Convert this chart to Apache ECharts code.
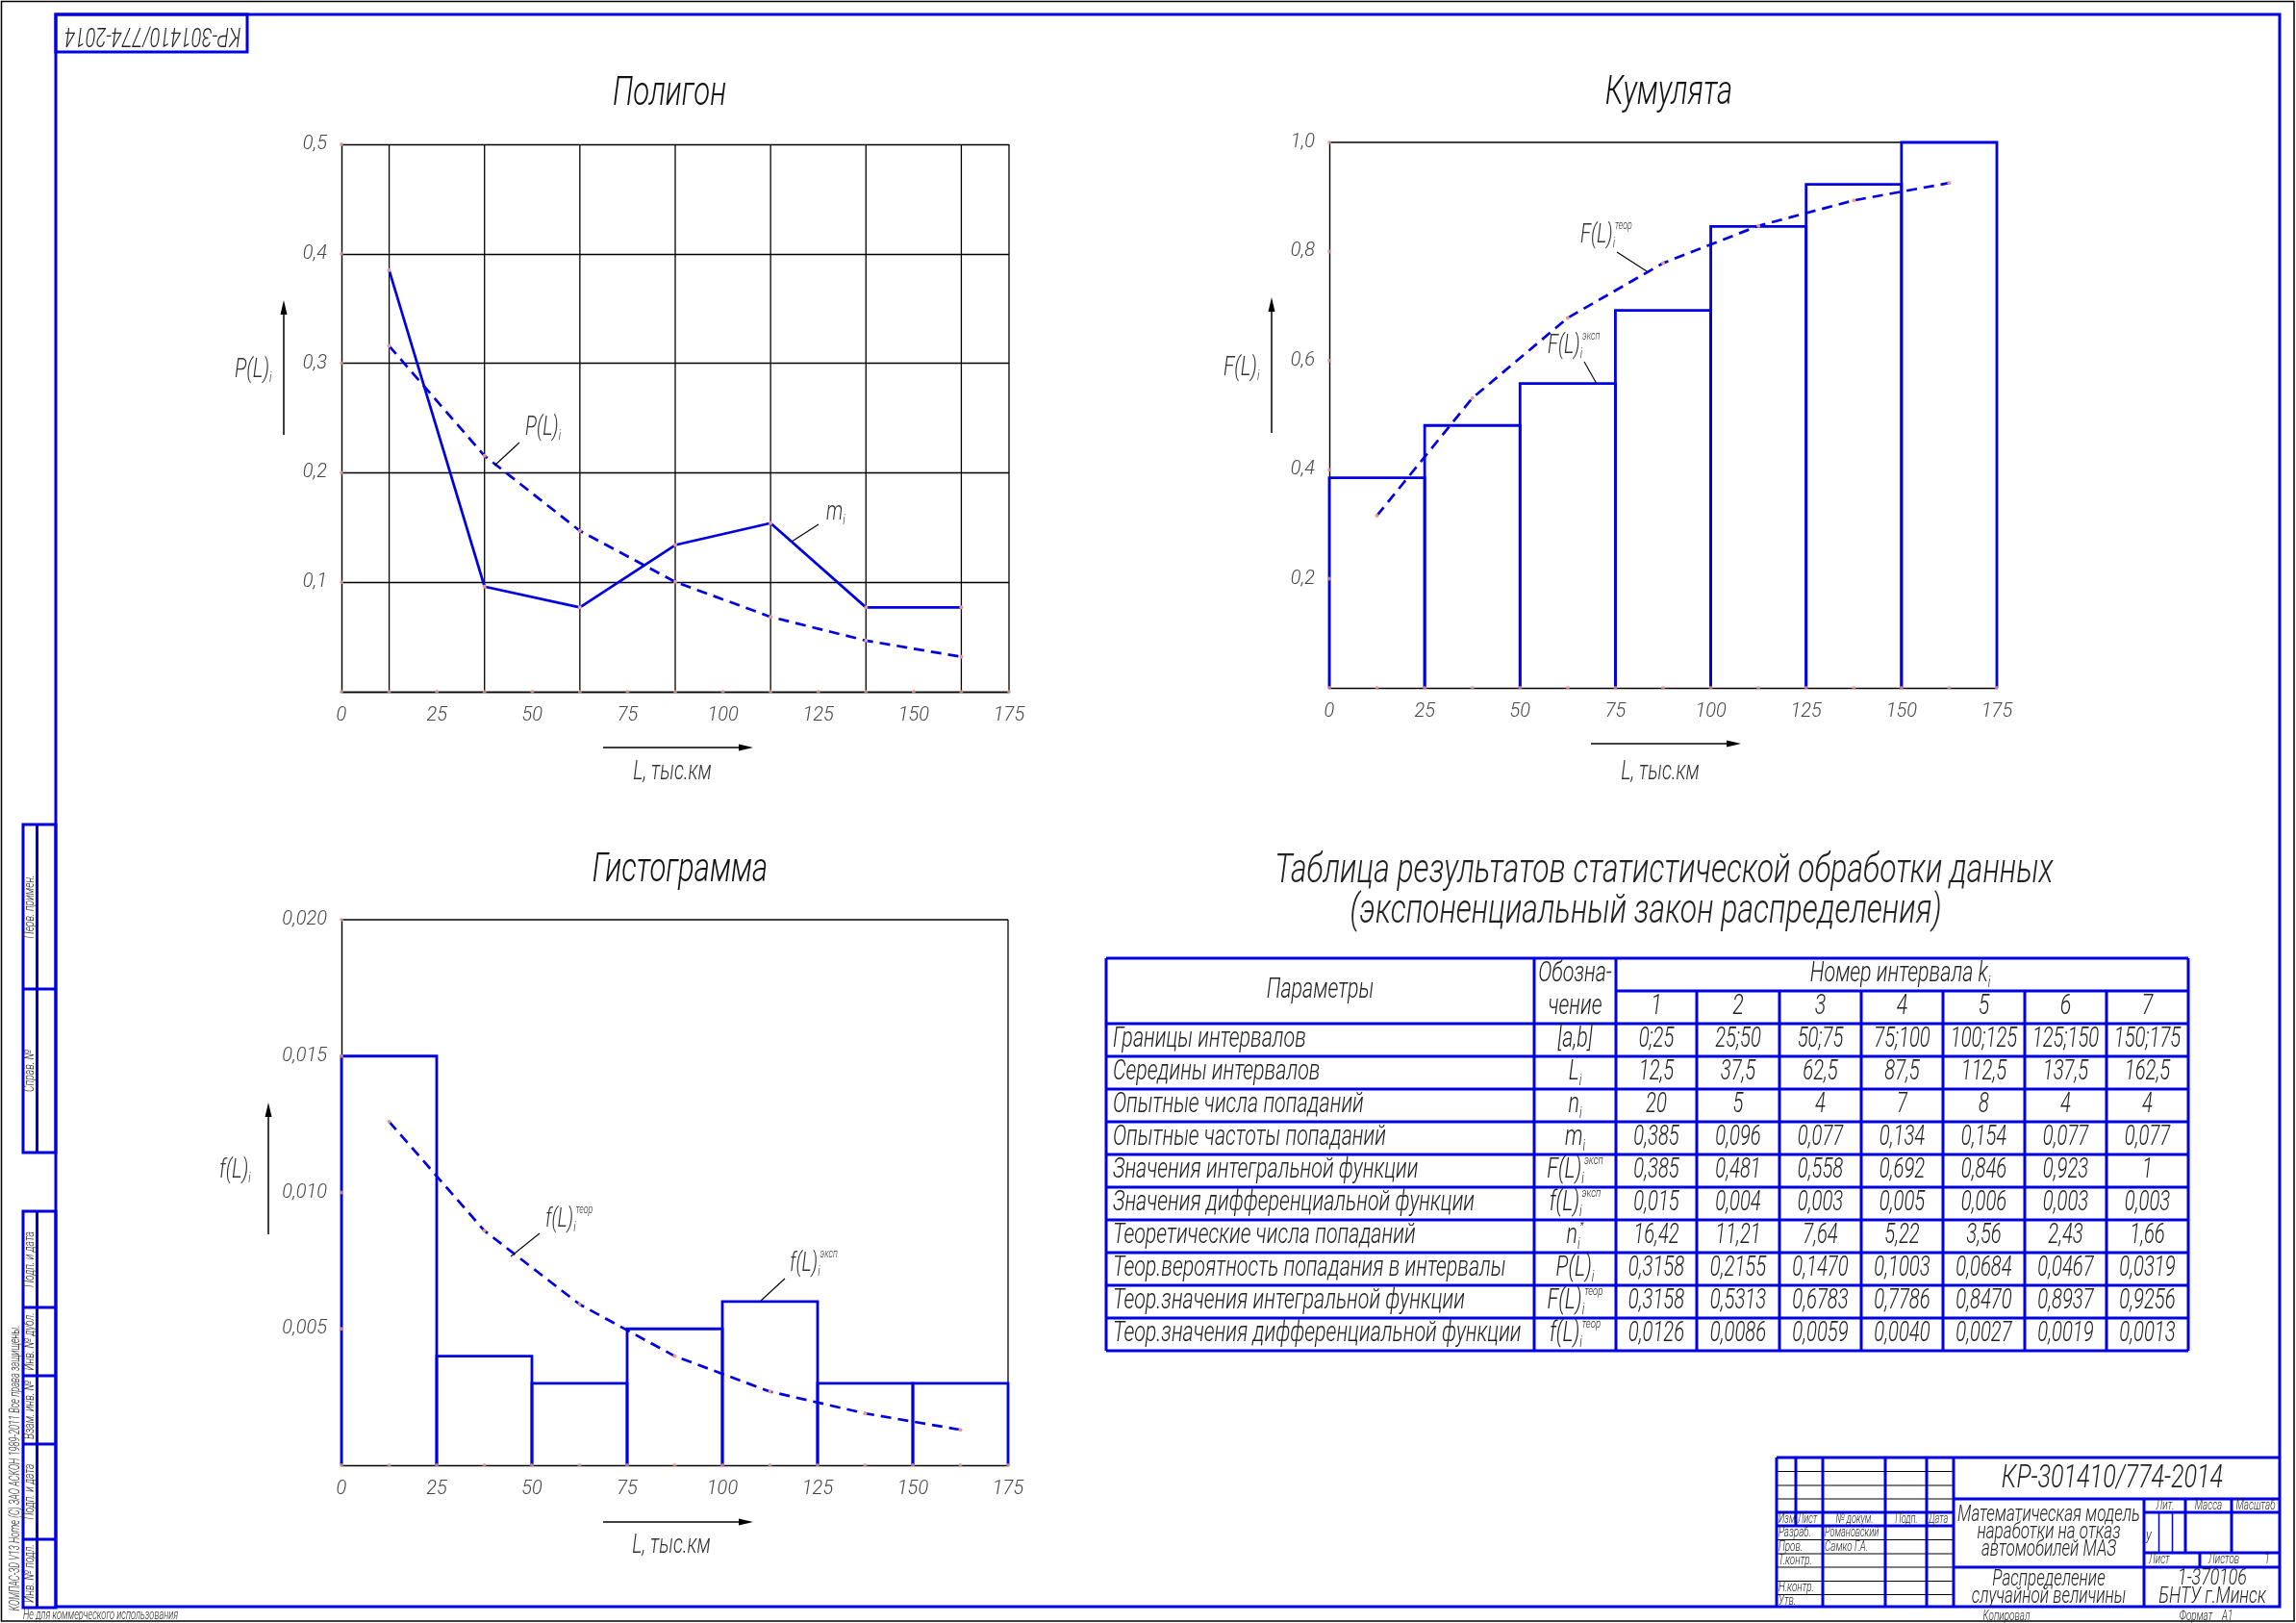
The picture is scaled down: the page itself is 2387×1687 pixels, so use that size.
<!DOCTYPE html>
<html><head><meta charset="utf-8">
<script src="https://cdn.jsdelivr.net/npm/echarts@6/dist/echarts.min.js"></script>
<style>html,body{margin:0;padding:0;background:#fff}#c{width:2387px;height:1687px}</style>
</head><body><div id="c"></div><script>
// ---------- DATA ----------
const lowerBounds = [0, 25, 50, 75, 100, 125, 150];
const upperBounds = [25, 50, 75, 100, 125, 150, 175];
const midpoints   = [12.5, 37.5, 62.5, 87.5, 112.5, 137.5, 162.5];
const intervalNos = [1, 2, 3, 4, 5, 6, 7];
const hitsExp   = [20, 5, 4, 7, 8, 4, 4];
const freqExp   = [0.385, 0.096, 0.077, 0.134, 0.154, 0.077, 0.077];
const cdfExp    = [0.385, 0.481, 0.558, 0.692, 0.846, 0.923, 1];
const pdfExp    = [0.015, 0.004, 0.003, 0.005, 0.006, 0.003, 0.003];
const hitsTheor = [16.42, 11.21, 7.64, 5.22, 3.56, 2.43, 1.66];
const probTheor = [0.3158, 0.2155, 0.1470, 0.1003, 0.0684, 0.0467, 0.0319];
const cdfTheor  = [0.3158, 0.5313, 0.6783, 0.7786, 0.8470, 0.8937, 0.9256];
const pdfTheor  = [0.0126, 0.0086, 0.0059, 0.0040, 0.0027, 0.0019, 0.0013];
const xTickDots = [0, 12.5, 25, 37.5, 50, 62.5, 75, 87.5, 100, 112.5, 125, 137.5, 150, 162.5, 175];
const yDotsPoly = [0.1, 0.2, 0.3, 0.4, 0.5];
const yDotsCum  = [0.2, 0.4, 0.6, 0.8, 1.0];
const yDotsHist = [0.005, 0.010, 0.015, 0.020];

const rowNames = ['Границы интервалов','Середины интервалов','Опытные числа попаданий','Опытные частоты попаданий',
  'Значения интегральной функции','Значения дифференциальной функции','Теоретические числа попаданий',
  'Теор.вероятность попадания в интервалы','Теор.значения интегральной функции','Теор.значения дифференциальной функции'];

// ---------- STYLE ----------
const FONT = "Roboto,'DejaVu Sans Condensed',sans-serif";
const FW = 300;
const SX = 0.74;            // horizontal squeeze to imitate the narrow drafting font
const BLUE = '#0000e0';
const INK = '#222222';
const GREY = '#444444';
const DOT = '#e59a9a';

const els = [];
function line(x1,y1,x2,y2,stroke,w){ els.push({type:'line',silent:true,z:5,shape:{x1,y1,x2,y2},style:{stroke,lineWidth:w}}); }
function tri(pts){ els.push({type:'polygon',silent:true,z:5,shape:{points:pts},style:{fill:'#000'}}); }
function text(x,y,t,size,o){ o=o||{};
  els.push({type:'text',silent:true,z:10,x,y,rotation:o.rot||0,scaleX:o.sx||SX,
    style:{text:t,fontSize:size,fontFamily:FONT,fontStyle:'italic',fontWeight:o.weight||FW,
      fill:o.fill||INK,align:o.align||'center',verticalAlign:o.va||'middle'}}); }
function rlabel(x,y,main,sub,sup,size,o){ o=o||{};
  let t='{m|'+main+'}'+(sub?'{s|'+sub+'}':'')+(sup?'{p|'+sup+'}':'');
  const base={fontFamily:FONT,fontStyle:'italic',fontWeight:FW,fill:o.fill||INK};
  els.push({type:'text',silent:true,z:10,x,y,scaleX:o.sx||SX,style:{text:t,align:o.align||'left',verticalAlign:'middle',
    rich:{m:Object.assign({fontSize:size,lineHeight:size*1.15,verticalAlign:'middle'},base),
          s:Object.assign({fontSize:Math.round(size*0.55),verticalAlign:'bottom'},base),
          p:Object.assign({fontSize:Math.round(size*0.45),verticalAlign:'top'},base)}}}); }
function arrowUp(x,yb,yt){ line(x,yb,x,yt+8,'#000',1.5); tri([[x,yt],[x-3.5,yt+15],[x+3.5,yt+15]]); }
function arrowRight(x1,x2,y){ line(x1,y,x2-8,y,'#000',1.5); tri([[x2,y],[x2-15,y-3.5],[x2-15,y+3.5]]); }

// ---------- SHEET FRAME ----------
els.push({type:'rect',silent:true,z:1,shape:{x:1.5,y:1.5,width:2383.5,height:1683.5},style:{fill:'none',stroke:'#000',lineWidth:1.5}});
els.push({type:'rect',silent:true,z:2,shape:{x:58,y:15,width:2312,height:1655},style:{fill:'none',stroke:BLUE,lineWidth:3}});
els.push({type:'rect',silent:true,z:2,shape:{x:58,y:15,width:199,height:39},style:{fill:'none',stroke:BLUE,lineWidth:3}});
text(159,36,'КР-301410/774-2014',27,{rot:Math.PI});

// left side strip
function strip(top,bottom,splits,labels){
  els.push({type:'rect',silent:true,z:2,shape:{x:24,y:top,width:34,height:bottom-top},style:{fill:'none',stroke:BLUE,lineWidth:3}});
  line(38.5,top,38.5,bottom,BLUE,3);
  const ys=[top].concat(splits).concat([bottom]);
  splits.forEach(s=>line(24,s,58,s,BLUE,3));
  labels.forEach((l,i)=>text(31.5,(ys[i]+ys[i+1])/2,l,14,{rot:Math.PI/2}));
}
strip(857,1198,[1028],['Перв. примен.','Справ. №']);
strip(1259,1671,[1359,1430,1501,1600],['Подп. и дата','Инв. № дубл.','Взам. инв. №','Подп. и дата','Инв. № подл.']);
text(16,1526,'КОМПАС-3D V13 Home (С) ЗАО АСКОН 1989-2011 Все права защищены.',14,{rot:Math.PI/2,sx:0.66});
text(24,1679,'Не для коммерческого использования',14,{align:'left',sx:0.66});

// ---------- TITLE BLOCK ----------
(function(){
  const L=1847,R=2370,T=1515,B=1670;
  const rows=[1529.5,1544,1558,1572,1586,1600.5,1615,1629,1643.5,1657.5];
  rows.forEach((y,i)=>line(L,y,2031,y,(i===3||i===4)?BLUE:'#000',(i===3||i===4)?3:1.2));
  line(1867,T,1867,1586,BLUE,3);
  [1895,1960,2003,2031].forEach(x=>line(x,T,x,B,BLUE,3));
  line(L,T,L,B,BLUE,3); line(L,T,R,T,BLUE,3);
  line(2031,1558,R,1558,BLUE,3); line(2031,1629,R,1629,BLUE,3);
  line(2229,1558,2229,B,BLUE,3);
  line(2229,1572,R,1572,BLUE,3); line(2229,1614,R,1614,BLUE,3);
  line(2272,1558,2272,1614,BLUE,3); line(2320,1558,2320,1614,BLUE,3);
  line(2244.5,1572,2244.5,1614,BLUE,1.5); line(2258.5,1572,2258.5,1614,BLUE,1.5);
  line(2287,1614,2287,1629,BLUE,3);
  const s=0.66;
  text(1849,1579,'Изм.',14,{align:'left',sx:s}); text(1869,1579,'Лист',14,{align:'left',sx:s});
  text(1928,1579,'№ докум.',14,{sx:s}); text(1982,1579,'Подп.',14,{sx:s}); text(2005,1579,'Дата',14,{align:'left',sx:s});
  text(1849,1593,'Разраб.',15,{align:'left',sx:s}); text(1897,1593,'Романовский',14,{align:'left',sx:s});
  text(1849,1608,'Пров.',15,{align:'left',sx:s}); text(1897,1608,'Самко Г.А.',15,{align:'left',sx:s});
  text(1849,1622,'Т.контр.',15,{align:'left',sx:s});
  text(1849,1650,'Н.контр.',15,{align:'left',sx:s}); text(1849,1664,'Утв.',15,{align:'left',sx:s});
  text(2196,1537,'КР-301410/774-2014',34);
  text(2130,1575,'Математическая модель',23); text(2130,1593,'наработки на отказ',23); text(2130,1611,'автомобилей МАЗ',23);
  text(2130,1642,'Распределение',23); text(2130,1660,'случайной величины',23);
  text(2251,1565,'Лит.',15,{sx:s}); text(2296,1565,'Масса',15,{sx:s}); text(2345,1565,'Масштаб',15,{sx:s});
  text(2234,1597,'у',17);
  text(2234,1621,'Лист',15,{align:'left',sx:s}); text(2296,1621,'Листов',15,{align:'left',sx:s}); text(2357,1621,'1',15);
  text(2300,1641,'1-370106',24); text(2300,1660,'БНТУ г.Минск',24);
  text(2086,1680,'Копировал',15,{sx:s}); text(2283,1680,'Формат',15,{sx:s}); text(2310,1680,'А1',15,{align:'left',sx:s});
})();

// ---------- CHART TEXTS ----------
text(696,98,'Полигон',42,{fill:'#111'});
text(1735,97,'Кумулята',42,{fill:'#111'});
text(707,905,'Гистограмма',42,{fill:'#111'});

rlabel(244,385,'P(L)','i',null,28,{fill:'#333'}); arrowUp(295,452,312);
text(699,803,'L, тыс.км',27,{fill:'#333'}); arrowRight(627,783,777);
rlabel(546,445,'P(L)','i',null,27,{fill:'#333'}); line(540,460,514,484,'#000',1.1);
rlabel(859,533,'m','i',null,27,{fill:'#333'}); line(851,545,823,563,'#000',1.1);

rlabel(1272,383,'F(L)','i',null,28,{fill:'#333'}); arrowUp(1322,450,309);
text(1726,803,'L, тыс.км',27,{fill:'#333'}); arrowRight(1654,1810,773);
rlabel(1643,245,'F(L)','i','теор',27,{fill:'#333'}); line(1681,262,1712,282,'#000',1.1);
rlabel(1609,360,'F(L)','i','эксп',27,{fill:'#333'}); line(1647,376,1660,399,'#000',1.1);

rlabel(228,1217,'f(L)','i',null,28,{fill:'#333'}); arrowUp(279,1283,1146);
text(698,1607,'L, тыс.км',27,{fill:'#333'}); arrowRight(627,783,1582);
rlabel(567,1268,'f(L)','i','теор',27,{fill:'#333'}); line(561,1282,531,1306,'#000',1.1);
rlabel(821,1314,'f(L)','i','эксп',27,{fill:'#333'}); line(816,1329,791,1352,'#000',1.1);

// ---------- TABLE ----------
text(1730,906,'Таблица результатов статистической обработки данных',42,{sx:0.76});
text(1711,948,'(экспоненциальный закон распределения)',42,{sx:0.76});
(function(){
  const cols=[1150,1595,1680,1764,1850,1935,2020,2105,2190,2275];
  const top=996, hmid=1030, hbot=1064, rh=34;
  const bottom=hbot+rh*rowNames.length;
  line(cols[0],top,cols[9],top,BLUE,3);
  line(cols[2],hmid,cols[9],hmid,BLUE,3);
  for(let r=0;r<=rowNames.length;r++) line(cols[0],hbot+r*rh,cols[9],hbot+r*rh,BLUE,3);
  [0,1,2,9].forEach(c=>line(cols[c],top,cols[c],bottom,BLUE,3));
  for(let c=3;c<9;c++) line(cols[c],hmid,cols[c],bottom,BLUE,3);
  const fs=29;
  text((cols[0]+cols[1])/2,hmid,'Параметры',fs);
  text((cols[1]+cols[2])/2,top+17,'Обозна-',fs); text((cols[1]+cols[2])/2,hmid+17,'чение',fs);
  rlabel((cols[2]+cols[9])/2-2,top+17,'Номер интервала k','i',null,fs,{align:'center'});
  intervalNos.forEach((n,i)=>text((cols[i+2]+cols[i+3])/2,hmid+17,String(n),fs));
  const fmt=(v,d)=>(d>0&&v===1?String(v):v.toFixed(d)).replace('.',',');
  const rowVals=[
    lowerBounds.map((a,i)=>a+';'+upperBounds[i]),
    midpoints.map(v=>fmt(v,1)), hitsExp.map(v=>fmt(v,0)), freqExp.map(v=>fmt(v,3)),
    cdfExp.map(v=>fmt(v,3)), pdfExp.map(v=>fmt(v,3)), hitsTheor.map(v=>fmt(v,2)),
    probTheor.map(v=>fmt(v,4)), cdfTheor.map(v=>fmt(v,4)), pdfTheor.map(v=>fmt(v,4))];
  const syms=[['[a,b]','',''],['L','i',''],['n','i',''],['m','i',''],['F(L)','i','эксп'],['f(L)','i','эксп'],
    ['n','i','*'],['P(L)','i',''],['F(L)','i','теор'],['f(L)','i','теор']];
  rowNames.forEach((nm,r)=>{
    const cy=hbot+r*rh+rh/2;
    text(cols[0]+7,cy,nm,fs,{align:'left'});
    const s=syms[r];
    rlabel((cols[1]+cols[2])/2,cy,s[0],s[1]||null,s[2]||null,fs,{align:'center'});
    rowVals[r].forEach((v,i)=>text((cols[i+2]+cols[i+3])/2,cy,v,fs,{sx:0.7}));
  });
})();

// ---------- CHARTS ----------
const axisText={color:GREY,fontSize:20,fontStyle:'italic',fontWeight:FW,fontFamily:FONT};
function xAx(gi){ return {type:'value',gridIndex:gi,min:0,max:175,interval:25,
  axisLine:{show:true,onZero:false,lineStyle:{color:'#000',width:1.4}},axisTick:{show:false},splitLine:{show:false},
  axisLabel:Object.assign({margin:15},axisText)}; }
function yAx(gi,max,interval,dec,split){ return {type:'value',gridIndex:gi,min:0,max,interval,
  axisLine:{show:true,onZero:false,lineStyle:{color:'#000',width:1.4}},axisTick:{show:false},
  splitLine:{show:split,lineStyle:{color:'#000',width:1.3}},
  axisLabel:Object.assign({margin:15,formatter:v=>v===0?'':v.toFixed(dec).replace('.',',')},axisText)}; }

function vLines(gi,vals,ymax){ return {type:'custom',xAxisIndex:gi,yAxisIndex:gi,z:1,silent:true,
  data:vals.map(v=>[v,0]),encode:{x:0,y:1},
  renderItem:(p,api)=>{const a=api.coord([api.value(0),0]),b=api.coord([api.value(0),ymax]);
    return {type:'line',shape:{x1:a[0],y1:a[1],x2:b[0],y2:b[1]},style:{stroke:'#000',lineWidth:1.3}};}}; }
function hLines(gi,vals){ return {type:'custom',xAxisIndex:gi,yAxisIndex:gi,z:1,silent:true,
  data:vals.map(v=>[0,v]),encode:{x:0,y:1},
  renderItem:(p,api)=>{const a=api.coord([0,api.value(1)]),b=api.coord([175,api.value(1)]);
    return {type:'line',shape:{x1:a[0],y1:a[1],x2:b[0],y2:b[1]},style:{stroke:'#000',lineWidth:1.3}};}}; }
function bars(gi,vals){ return {type:'custom',xAxisIndex:gi,yAxisIndex:gi,z:3,silent:true,
  data:vals.map((v,i)=>[lowerBounds[i],upperBounds[i],v]),encode:{x:[0,1],y:2},
  renderItem:(p,api)=>{const a=api.value(0),b=api.value(1),v=api.value(2);
    const pts=[api.coord([a,0]),api.coord([a,v]),api.coord([b,v]),api.coord([b,0])];
    return {type:'polyline',shape:{points:pts},style:{stroke:BLUE,lineWidth:2.8,fill:null}};}}; }
function lineS(gi,vals,dashed){ return {type:'line',xAxisIndex:gi,yAxisIndex:gi,z:4,silent:true,
  data:midpoints.map((x,i)=>[x,vals[i]]),symbol:'circle',symbolSize:4,itemStyle:{color:DOT},
  lineStyle:{color:BLUE,width:2.7,type:dashed?[11,7]:'solid'},animation:false}; }
function dots(gi,ys){ const d=xTickDots.map(x=>[x,0]).concat(ys.map(y=>[0,y]));
  return {type:'scatter',xAxisIndex:gi,yAxisIndex:gi,z:6,silent:true,data:d,symbolSize:4,itemStyle:{color:DOT}}; }

const chart=echarts.init(document.getElementById('c'),null,{renderer:'canvas'});
chart.setOption({
  animation:false,
  backgroundColor:'#fff',
  grid:[
    {left:355,top:150,width:694,height:569},
    {left:1382,top:148,width:694,height:567},
    {left:355,top:956,width:693,height:567}
  ],
  xAxis:[xAx(0),xAx(1),xAx(2)],
  yAxis:[yAx(0,0.5,0.1,1,true),yAx(1,1.0,0.2,1,false),yAx(2,0.02,0.005,3,false)],
  series:[
    vLines(0,midpoints.concat([175]),0.5),
    lineS(0,freqExp,false), lineS(0,probTheor,true), dots(0,yDotsPoly),
    hLines(1,[1.0]), bars(1,cdfExp), lineS(1,cdfTheor,true), dots(1,yDotsCum),
    hLines(2,[0.02]), vLines(2,[175],0.02), bars(2,pdfExp), lineS(2,pdfTheor,true), dots(2,yDotsHist)
  ],
  graphic:{elements:els}
});
</script></body></html>
